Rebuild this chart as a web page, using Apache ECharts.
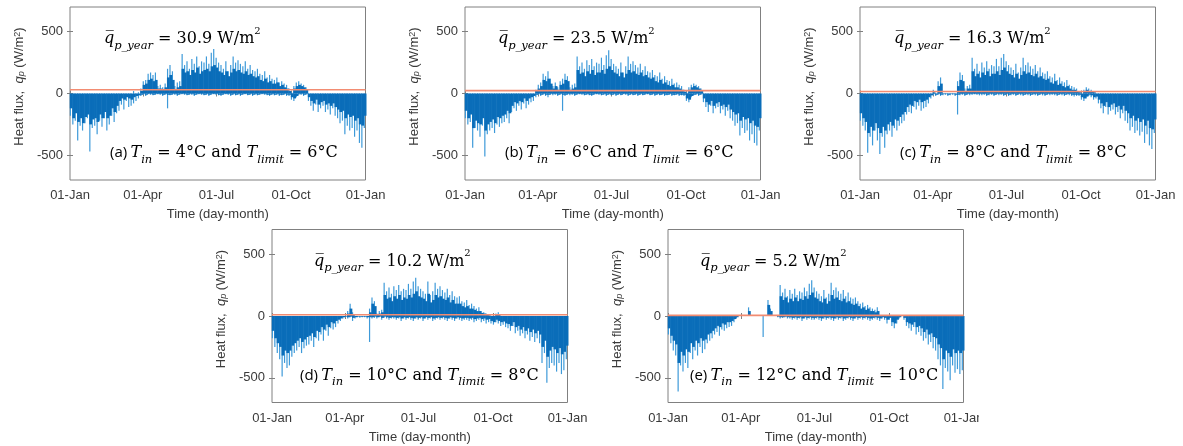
<!DOCTYPE html>
<html><head><meta charset="utf-8">
<script src="https://cdn.jsdelivr.net/npm/echarts@6/dist/echarts.min.js"></script>
<style>html,body{margin:0;padding:0;background:#fff}#c{width:1183px;height:446px}</style>
</head><body><div id="c"></div>
<script>
// ---------- data (3-day bins through the year; values in W/m2) ----------
// "peak" arrays = extreme spikes in each bin, "body" arrays = dense bulk of the hourly bars
const binDays = 3;
const xTickDays = [0, 90, 181, 273, 365];
const xTickLabels = ['01-Jan', '01-Apr', '01-Jul', '01-Oct', '01-Jan'];
const yTicks = [-500, 0, 500];
const panelLetters = ['a', 'b', 'c', 'd', 'e'];
const meanFlux = [30.9, 23.5, 16.3, 10.2, 5.2];
const tIn = [4, 6, 8, 10, 12];
const tLimit = [6, 6, 8, 8, 10];

const peakPosA = [0,0,0,0,0,0,0,0,0,0, 0,0,0,0,0,0,0,0,0,0, 0,0,0,0,0,0,20,0,10,40,
  100,110,160,170,150,170,60,70,50,80, 200,230,180,60,90,100,320,230,260,200,
  280,240,300,220,260,250,300,240,330,360, 290,250,230,200,260,180,230,300,250,270,
  240,220,260,200,230,190,180,200,160,150, 180,130,150,120,110,130,90,100,80,70,
  40,10,60,90,100,80,70,50,0,0, 0,0,0,0,0,0,0,0,0,0, 0,0,0,0,0,0,0,0,0,0,0,0];
const peakNegA = [-180,-250,-220,-380,-260,-300,-240,-200,-470,-280, -260,-330,-220,-270,-200,-300,-250,-180,-230,-160,
  -140,-90,-130,-60,-110,-100,-80,-60,-40,-20, -10,-20,-5,-10,-15,-10,-5,-10,-20,-10,
  -120,-15,-10,-10,-20,-10,-5,-10,-15,-10, -10,-20,-10,-5,-10,-15,-10,-20,-10,-5,
  -10,-15,-20,-10,-5,-10,-20,-10,-15,-10, -20,-10,-5,-15,-10,-20,-10,-15,-10,-5,
  -10,-15,-20,-10,-15,-10,-20,-15,-10,-20, -20,-50,-60,-30,-10,-10,-20,-10,-60,-100,
  -140,-90,-150,-120,-100,-150,-130,-170,-120,-180, -200,-240,-220,-330,-260,-300,-280,-350,-300,-400,-440,-280];
const bodyPosA = [0,0,0,0,0,0,0,0,0,0, 0,0,0,0,0,0,0,0,0,0, 0,0,0,0,0,0,0,0,0,20,
  70,80,110,120,100,110,40,40,30,50, 130,150,110,30,50,60,200,170,180,150,
  190,170,210,160,180,190,200,180,220,230, 210,180,170,150,180,140,170,200,180,190,
  170,160,180,150,160,140,130,140,110,100, 120,90,100,80,80,90,60,70,50,40,
  20,5,40,60,70,60,50,30,0,0, 0,0,0,0,0,0,0,0,0,0, 0,0,0,0,0,0,0,0,0,0,0,0];
const bodyNegA = [-120,-200,-160,-230,-200,-240,-190,-170,-250,-210, -200,-230,-170,-200,-150,-200,-180,-120,-150,-100,
  -60,-40,-50,-30,-40,-50,-30,-20,-15,-10, -5,-10,-5,-5,-10,-5,-5,-5,-10,-5,
  -10,-10,-5,-5,-10,-5,-5,-5,-10,-5, -5,-10,-5,-5,-5,-10,-5,-10,-5,-5,
  -5,-10,-10,-5,-5,-5,-10,-5,-10,-5, -10,-5,-5,-10,-5,-10,-5,-10,-5,-5,
  -5,-10,-10,-5,-10,-5,-10,-10,-5,-10, -10,-30,-40,-20,-5,-5,-10,-5,-30,-60,
  -80,-50,-90,-70,-60,-90,-80,-100,-80,-110, -130,-150,-140,-200,-170,-190,-180,-220,-200,-250,-260,-180];

const peakPosB = [0,0,0,0,0,0,0,0,0,0, 0,0,0,0,0,0,0,0,0,0, 0,0,0,0,0,0,0,0,0,30,
  70,90,160,140,180,120,60,90,50,100, 120,160,140,50,70,80,300,220,250,200,
  270,230,280,220,250,240,290,230,310,350, 280,240,220,200,250,170,220,300,240,260,
  230,210,240,190,220,180,170,190,150,140, 170,120,140,110,100,120,80,90,70,60,
  30,10,50,70,80,70,60,40,0,0, 0,0,0,0,0,0,0,0,0,0, 0,0,0,0,0,0,0,0,0,0,0,0];
const peakNegB = [-200,-250,-230,-440,-280,-300,-350,-260,-510,-330, -300,-280,-320,-250,-270,-240,-230,-200,-240,-150,
  -120,-140,-100,-130,-80,-120,-90,-70,-60,-30, -10,-20,-10,-20,-30,-10,-15,-10,-20,-10,
  -140,-20,-10,-15,-10,-20,-10,-5,-10,-15, -10,-15,-20,-10,-5,-10,-15,-10,-20,-10,
  -15,-10,-20,-10,-15,-5,-10,-20,-10,-15, -10,-20,-10,-15,-10,-5,-15,-10,-20,-10,
  -15,-10,-20,-15,-10,-20,-15,-10,-20,-15, -20,-60,-70,-30,-15,-10,-20,-10,-70,-110,
  -150,-100,-160,-120,-110,-160,-130,-180,-140,-200, -220,-260,-240,-340,-280,-320,-300,-380,-330,-400,-420,-300];
const bodyPosB = [0,0,0,0,0,0,0,0,0,0, 0,0,0,0,0,0,0,0,0,0, 0,0,0,0,0,0,0,0,0,20,
  40,60,110,100,120,80,40,60,30,70, 80,110,100,30,40,50,190,160,170,140,
  180,160,190,150,170,170,190,160,200,220, 190,170,160,140,170,130,160,190,170,180,
  160,150,170,140,150,130,120,130,100,90, 110,80,90,70,60,70,50,50,40,30,
  15,5,30,50,60,50,40,20,0,0, 0,0,0,0,0,0,0,0,0,0, 0,0,0,0,0,0,0,0,0,0,0,0];
const bodyNegB = [-140,-200,-170,-280,-220,-240,-250,-200,-300,-250, -230,-210,-240,-190,-200,-180,-170,-140,-160,-100,
  -70,-80,-60,-70,-40,-60,-40,-30,-20,-10, -5,-10,-5,-10,-10,-5,-5,-5,-10,-5,
  -10,-10,-5,-5,-5,-10,-5,-5,-5,-10, -5,-10,-10,-5,-5,-5,-10,-5,-10,-5,
  -10,-5,-10,-5,-10,-5,-5,-10,-5,-10, -5,-10,-5,-10,-5,-5,-10,-5,-10,-5,
  -10,-5,-10,-10,-5,-10,-10,-5,-10,-10, -10,-40,-50,-20,-10,-5,-10,-5,-40,-70,
  -90,-60,-100,-80,-70,-100,-90,-110,-90,-130, -150,-170,-160,-220,-190,-210,-200,-240,-220,-260,-270,-200];

const peakPosC = [0,0,0,0,0,0,0,0,0,0, 0,0,0,0,0,0,0,0,0,0, 0,0,0,0,0,0,0,0,0,0,
  30,0,100,130,0,0,0,0,0,0, 100,170,150,40,60,70,290,200,240,180,
  250,210,260,200,230,220,280,220,290,320, 260,230,210,190,240,170,210,290,230,250,
  220,200,230,180,210,170,160,180,140,130, 160,110,130,100,90,110,70,60,50,40,
  20,0,30,50,40,30,20,0,0,0, 0,0,0,0,0,0,0,0,0,0, 0,0,0,0,0,0,0,0,0,0,0,0];
const peakNegC = [-220,-260,-300,-480,-350,-420,-300,-380,-490,-350, -440,-330,-300,-350,-280,-300,-260,-240,-220,-170,
  -150,-160,-110,-130,-100,-140,-120,-110,-80,-40, -15,-20,-10,-20,-15,-10,-20,-15,-10,-20,
  -170,-15,-10,-20,-10,-15,-10,-5,-10,-15, -15,-10,-20,-15,-10,-20,-10,-15,-10,-20,
  -10,-20,-15,-10,-20,-10,-15,-20,-10,-15, -20,-10,-15,-20,-10,-15,-20,-10,-15,-10,
  -15,-20,-10,-15,-20,-10,-15,-20,-25,-20, -20,-50,-60,-40,-20,-30,-50,-40,-80,-120,
  -160,-110,-170,-140,-130,-170,-150,-200,-160,-220, -240,-300,-270,-320,-300,-340,-310,-400,-330,-420,-450,-320];
const bodyPosC = [0,0,0,0,0,0,0,0,0,0, 0,0,0,0,0,0,0,0,0,0, 0,0,0,0,0,0,0,0,0,0,
  10,0,60,80,0,0,0,0,0,0, 60,110,100,20,40,40,180,140,160,130,
  170,150,180,140,160,160,180,150,190,210, 180,160,150,130,160,120,150,180,160,170,
  150,140,160,130,140,120,110,120,90,80, 100,70,80,60,50,60,40,30,30,20,
  10,0,15,30,20,15,10,0,0,0, 0,0,0,0,0,0,0,0,0,0, 0,0,0,0,0,0,0,0,0,0,0,0];
const bodyNegC = [-160,-200,-230,-320,-270,-300,-240,-280,-320,-270, -300,-250,-230,-260,-210,-220,-190,-170,-150,-110,
  -90,-100,-60,-70,-50,-70,-60,-50,-30,-15, -5,-10,-5,-10,-5,-5,-10,-5,-5,-10,
  -10,-5,-5,-10,-5,-5,-5,-5,-5,-5, -5,-5,-10,-5,-5,-10,-5,-5,-5,-10,
  -5,-10,-5,-5,-10,-5,-5,-10,-5,-5, -10,-5,-5,-10,-5,-5,-10,-5,-5,-5,
  -5,-10,-5,-5,-10,-5,-5,-10,-10,-10, -10,-30,-40,-25,-10,-15,-30,-25,-50,-80,
  -100,-70,-110,-90,-80,-110,-100,-130,-100,-140, -160,-200,-180,-220,-200,-230,-210,-260,-220,-280,-290,-210];

const peakPosD = [0,0,0,0,0,0,0,0,0,0, 0,0,0,0,0,0,0,0,0,0, 0,0,0,0,0,0,0,0,0,0,
  0,40,100,30,0,0,0,0,0,0, 60,150,120,20,40,50,270,200,230,180,
  240,210,250,200,220,210,260,220,280,310, 240,220,200,180,280,170,200,270,220,240,
  210,190,220,170,200,160,150,160,120,110, 130,90,100,80,60,70,40,30,20,10,
  0,0,20,30,0,0,0,0,0,0, 0,0,0,0,0,0,0,0,0,0, 0,0,0,0,0,0,0,0,0,0,0,0];
const peakNegD = [-180,-250,-300,-350,-490,-380,-420,-400,-330,-300, -280,-250,-300,-260,-240,-230,-200,-250,-180,-200,
  -150,-200,-120,-160,-100,-110,-90,-60,-40,-20, -10,-20,-10,-40,-20,-10,-15,-10,-10,-20,
  -210,-20,-15,-20,-10,-30,-15,-20,-30,-20, -20,-30,-20,-40,-20,-30,-20,-30,-40,-20,
  -30,-20,-40,-20,-30,-20,-40,-30,-20,-30, -20,-30,-40,-20,-30,-40,-20,-30,-40,-30,
  -30,-40,-30,-50,-40,-30,-50,-40,-60,-50, -60,-70,-50,-60,-80,-70,-90,-100,-120,-80,
  -140,-120,-160,-140,-180,-150,-200,-170,-210,-180, -220,-380,-300,-540,-420,-380,-400,-450,-380,-470,-440,-350];
const bodyPosD = [0,0,0,0,0,0,0,0,0,0, 0,0,0,0,0,0,0,0,0,0, 0,0,0,0,0,0,0,0,0,0,
  0,20,60,10,0,0,0,0,0,0, 30,100,80,10,20,30,170,140,150,120,
  160,140,170,130,150,140,170,150,180,200, 160,150,140,120,180,110,130,170,150,160,
  140,130,150,110,130,100,100,100,80,70, 80,60,60,50,40,40,25,20,10,5,
  0,0,10,15,0,0,0,0,0,0, 0,0,0,0,0,0,0,0,0,0, 0,0,0,0,0,0,0,0,0,0,0,0];
const bodyNegD = [-120,-180,-220,-250,-320,-280,-300,-280,-240,-220, -200,-180,-210,-190,-170,-160,-140,-170,-120,-130,
  -90,-110,-70,-90,-50,-60,-40,-30,-20,-10, -5,-10,-5,-15,-10,-5,-5,-5,-5,-10,
  -10,-10,-5,-10,-5,-15,-5,-10,-15,-10, -10,-15,-10,-20,-10,-15,-10,-15,-20,-10,
  -15,-10,-20,-10,-15,-10,-20,-15,-10,-15, -10,-15,-20,-10,-15,-20,-10,-15,-20,-15,
  -15,-20,-15,-25,-20,-15,-25,-20,-30,-25, -40,-50,-30,-40,-50,-45,-60,-65,-80,-50,
  -90,-80,-110,-90,-120,-100,-130,-110,-140,-120, -150,-250,-200,-330,-280,-250,-270,-300,-260,-310,-290,-240];

const peakPosE = [0,0,0,0,0,0,0,0,0,0, 0,0,0,0,0,0,0,0,0,0, 0,0,0,0,0,0,0,0,0,0,
  0,0,0,70,0,0,0,0,0,0, 0,130,60,0,0,0,250,190,220,160,
  210,180,220,170,200,190,230,200,260,290, 230,200,180,160,210,150,180,270,210,230,
  200,180,210,160,190,150,140,150,120,100, 110,80,90,70,60,50,70,0,0,0,
  0,0,0,0,0,0,0,0,0,0, 0,0,0,0,0,0,0,0,0,0, 0,0,0,0,0,0,0,0,0,0,0,0];
const peakNegE = [-150,-220,-280,-320,-610,-400,-450,-380,-420,-300, -350,-280,-320,-250,-300,-270,-220,-200,-180,-150,
  -130,-160,-110,-120,-100,-90,-80,-50,-20,0, 0,0,0,0,0,0,0,0,0,-170,
  0,0,0,0,0,-10,-20,-15,-10,-20, -20,-30,-20,-30,-20,-40,-20,-30,-20,-30,
  -30,-20,-30,-40,-20,-30,-20,-30,-40,-20, -30,-20,-40,-30,-20,-30,-40,-20,-30,-20,
  -30,-20,-30,-40,-30,-20,-30,-40,-20,-30, -60,-30,-80,-100,-60,-20,0,-30,-80,-100,
  -120,-90,-150,-130,-160,-200,-180,-230,-210,-260, -280,-350,-400,-590,-420,-450,-520,-400,-460,-430,-470,-440];
const bodyPosE = [0,0,0,0,0,0,0,0,0,0, 0,0,0,0,0,0,0,0,0,0, 0,0,0,0,0,0,0,0,0,0,
  0,0,0,40,0,0,0,0,0,0, 0,90,40,0,0,0,160,130,150,110,
  140,120,150,120,140,130,160,140,170,190, 150,140,120,110,140,100,120,170,140,150,
  130,120,140,110,120,100,90,100,80,60, 70,50,60,40,40,30,40,0,0,0,
  0,0,0,0,0,0,0,0,0,0, 0,0,0,0,0,0,0,0,0,0, 0,0,0,0,0,0,0,0,0,0,0,0];
const bodyNegE = [-100,-160,-200,-230,-380,-290,-320,-270,-290,-220, -250,-200,-220,-180,-200,-190,-150,-140,-120,-100,
  -80,-90,-60,-70,-50,-50,-40,-25,-10,0, 0,0,0,0,0,0,0,0,0,0,
  0,0,0,0,0,-5,-10,-10,-5,-10, -10,-15,-10,-15,-10,-20,-10,-15,-10,-15,
  -15,-10,-15,-20,-10,-15,-10,-15,-20,-10, -15,-10,-20,-15,-10,-15,-20,-10,-15,-10,
  -15,-10,-15,-20,-15,-10,-15,-20,-10,-15, -30,-15,-50,-60,-30,-10,0,-15,-50,-60,
  -70,-50,-90,-80,-100,-130,-110,-150,-140,-170, -180,-230,-260,-350,-280,-300,-330,-270,-300,-280,-300,-280];

const peakPos = [peakPosA, peakPosB, peakPosC, peakPosD, peakPosE];
const peakNeg = [peakNegA, peakNegB, peakNegC, peakNegD, peakNegE];
const bodyPos = [bodyPosA, bodyPosB, bodyPosC, bodyPosD, bodyPosE];
const bodyNeg = [bodyNegA, bodyNegB, bodyNegC, bodyNegD, bodyNegE];

// ---------- layout / style ----------
const layout = [
  {left: 70, top: 7, fx: 34, lx: 40},
  {left: 465, top: 7, fx: 33, lx: 40},
  {left: 860, top: 7, fx: 34, lx: 40},
  {left: 272, top: 229.5, fx: 42, lx: 28},
  {left: 668, top: 229.5, fx: 32, lx: 22}
];
const W = 295.5, H = 173;
const bodyColor = '#0a6db9';
const peakColor = '#3e9ad9';
const meanColor = '#f28c72';
const axisCol = '#808080';
const txtCol = '#3a3a3a';
const sansFont = 'Liberation Sans, Arial, sans-serif';
const serifFont = 'DejaVu Serif, serif';

const chart = echarts.init(document.getElementById('c'), null, {renderer: 'canvas'});
const grid = [], xAxis = [], yAxis = [], series = [], graphic = [];

const yRich = {
  t: {fontFamily: sansFont, fontSize: 13, color: txtCol},
  q: {fontFamily: 'Liberation Sans, Arial', fontStyle: 'italic', fontSize: 13, color: txtCol},
  sub: {fontFamily: 'Liberation Sans, Arial', fontStyle: 'italic', fontSize: 9, color: txtCol, verticalAlign: 'bottom', lineHeight: 9},
  sup: {fontFamily: sansFont, fontSize: 9, color: txtCol, verticalAlign: 'top', lineHeight: 9}
};
const fRich = {
  q: {fontFamily: serifFont, fontStyle: 'italic', fontSize: 16, color: '#111', lineHeight: 26},
  sub: {fontFamily: serifFont, fontStyle: 'italic', fontSize: 11.5, color: '#111', verticalAlign: 'bottom', lineHeight: 13},
  t: {fontFamily: serifFont, fontSize: 16, color: '#111', lineHeight: 26},
  sup: {fontFamily: serifFont, fontSize: 10, color: '#111', verticalAlign: 'top', lineHeight: 15},
  s: {fontFamily: 'Open Sans, Liberation Sans, sans-serif', fontSize: 15, color: '#111', lineHeight: 26},
  it: {fontFamily: serifFont, fontStyle: 'italic', fontSize: 16, color: '#111', lineHeight: 26}
};

function barSeries(k, arr, color, width, z) {
  return {type: 'bar', xAxisIndex: 2 * k, yAxisIndex: 2 * k, barWidth: width, barGap: '-100%', z: z,
    data: arr.map((v, i) => [i * binDays + binDays / 2, v]),
    itemStyle: {color: color}, silent: true, animation: false};
}

panelLetters.forEach((p, k) => {
  const L = layout[k];
  grid.push({left: L.left, top: L.top, width: W, height: H, show: true,
    borderColor: axisCol, borderWidth: 1, backgroundColor: 'transparent', containLabel: false});
  xAxis.push({type: 'value', gridIndex: k, min: 0, max: 365, position: 'bottom',
    axisLine: {show: false}, splitLine: {show: false},
    axisTick: {show: true, inside: true, length: 3, lineStyle: {color: axisCol}, customValues: xTickDays},
    axisLabel: {show: true, customValues: xTickDays, margin: 9, fontFamily: sansFont, fontSize: 13, color: txtCol,
      formatter: v => xTickLabels[xTickDays.indexOf(v)]},
    name: 'Time (day-month)', nameLocation: 'middle', nameGap: 28,
    nameTextStyle: {fontFamily: sansFont, fontSize: 13, color: txtCol}});
  xAxis.push({type: 'value', gridIndex: k, min: 0, max: 365, position: 'top',
    axisLine: {show: false}, splitLine: {show: false}, axisLabel: {show: false},
    axisTick: {show: true, inside: true, length: 3, lineStyle: {color: axisCol}, customValues: xTickDays}});
  yAxis.push({type: 'value', gridIndex: k, min: -700, max: 700, position: 'left',
    axisLine: {show: false}, splitLine: {show: false},
    axisTick: {show: true, inside: true, length: 3, lineStyle: {color: axisCol}, customValues: yTicks},
    axisLabel: {show: true, customValues: yTicks, margin: 7, fontFamily: sansFont, fontSize: 13, color: txtCol},
    name: '{t|Heat flux,  }{q|q}{sub|p}{t| (W/m}{sup|2}{t|)}', nameLocation: 'middle', nameGap: 44, nameRotate: 90,
    nameTextStyle: {rich: yRich, padding: [0, 0, 0, 14]}});
  yAxis.push({type: 'value', gridIndex: k, min: -700, max: 700, position: 'right',
    axisLine: {show: false}, splitLine: {show: false}, axisLabel: {show: false},
    axisTick: {show: true, inside: true, length: 3, lineStyle: {color: axisCol}, customValues: yTicks}});

  series.push(barSeries(k, peakNeg[k], peakColor, 1.2, 2));
  series.push(barSeries(k, peakPos[k], peakColor, 1.2, 2));
  series.push(barSeries(k, bodyNeg[k], bodyColor, 2.8, 3));
  series.push(barSeries(k, bodyPos[k], bodyColor, 2.8, 3));
  series.push({type: 'line', xAxisIndex: 2 * k, yAxisIndex: 2 * k, data: [[0, meanFlux[k]], [365, meanFlux[k]]],
    symbol: 'none', lineStyle: {color: meanColor, width: 1.6}, z: 5, silent: true, animation: false});

  graphic.push({type: 'text', left: L.left + L.fx, top: L.top + 19, z: 10,
    style: {text: '{q|q\u0305}{sub|p_year}{t| = ' + meanFlux[k].toFixed(1) + ' W/m}{sup|2}', rich: fRich}});
  graphic.push({type: 'text', left: L.left + L.lx, top: L.top + 138, z: 10,
    style: {text: '{s|(' + p + ')} {it|T}{sub|in}{t| = ' + tIn[k] + '°C and }{it|T}{sub|limit}{t| = ' + tLimit[k] + '°C}', rich: fRich}});
});
// the source figure is cropped just right of panel (e)'s last date label
graphic.push({type: 'rect', left: 979, top: 404, shape: {width: 30, height: 20}, style: {fill: '#fff'}, z: 20});

chart.setOption({animation: false, grid, xAxis, yAxis, series, graphic});
</script></body></html>
